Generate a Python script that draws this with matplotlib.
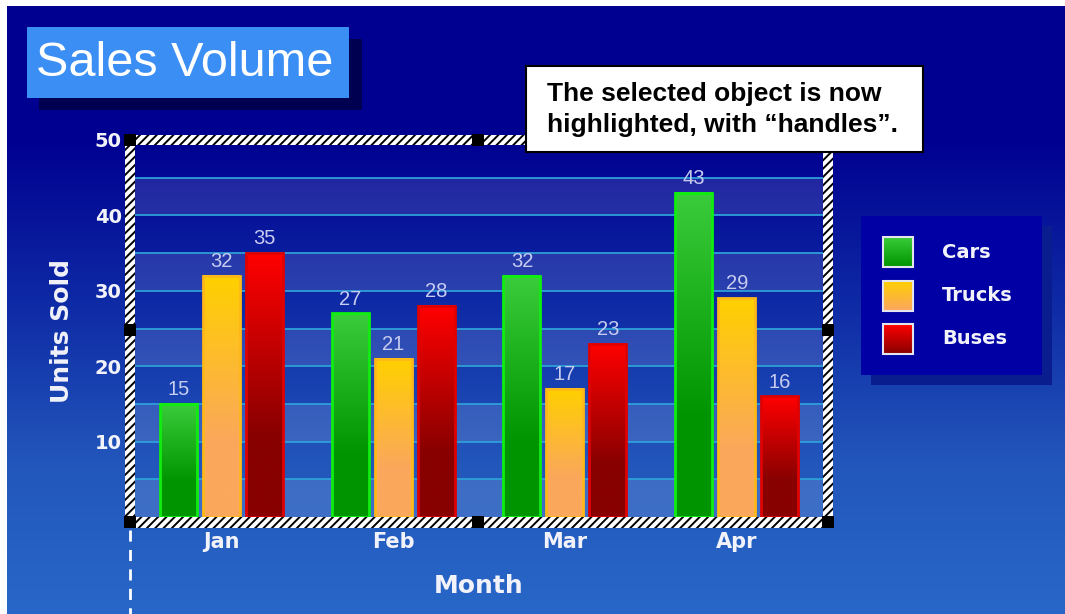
import numpy as np
import matplotlib
import matplotlib.pyplot as plt
from matplotlib.colors import LinearSegmentedColormap
from matplotlib.patches import Rectangle

matplotlib.use('agg')
plt.rcParams['font.family'] = ['Liberation Sans', 'DejaVu Sans']
plt.rcParams['hatch.linewidth'] = 1.4

months = ['Jan', 'Feb', 'Mar', 'Apr']
series = ['Cars', 'Trucks', 'Buses']
cars = [15, 27, 32, 43]
trucks = [32, 21, 17, 29]
buses = [35, 28, 23, 16]
y_ticks = [10, 20, 30, 40, 50]

W, H = 1065, 614
# (top colour, bottom colour, edge colour) per series
bar_styles = {
    'Cars': ('#3acc3a', '#009400', '#10ee10'),
    'Trucks': ('#ffd000', '#fba75c', '#ffb818'),
    'Buses': ('#ff0000', '#880000', '#e00000'),
}
label_font = dict(family='DejaVu Sans', weight='bold', color='#f2f2fa')

fig = plt.figure(figsize=(W / 100, H / 100), dpi=100, facecolor='white')

# background gradient, pixel coordinates
bg = fig.add_axes([0, 0, 1, 1], zorder=0)
bg.set_xlim(0, W)
bg.set_ylim(H, 0)
bg.axis('off')
bg_cmap = LinearSegmentedColormap.from_list(
    'bg', [(0, '#000090'), (0.22, '#000090'), (0.5, '#0f2ca6'), (0.75, '#2256bb'), (1, '#2867c7')])
bg.imshow(np.linspace(0, 1, 256).reshape(-1, 1), cmap=bg_cmap, aspect='auto',
          extent=(7, W, H, 6), interpolation='bicubic')

# plot area
x0, x1, y_top, y_bot = 130, 828, 140, 522
ax = fig.add_axes([x0 / W, (H - y_bot) / H, (x1 - x0) / W, (y_bot - y_top) / H], zorder=1)
ax.set_facecolor('none')
for lo in range(0, 50, 10):
    ax.axhspan(lo, lo + 5, color='white', alpha=0.12, lw=0, zorder=0)
for v in range(5, 50, 5):
    ax.axhline(v, color='#2d9fd8', lw=1.3, zorder=1)

x = np.arange(len(months))
width = 0.215
offsets = [-0.25, 0, 0.25]
grad = np.concatenate([np.linspace(0, 1, 70), np.ones(30)]).reshape(-1, 1)
for name, vals, off in zip(series, [cars, trucks, buses], offsets):
    top, bottom, edge = bar_styles[name]
    cmap = LinearSegmentedColormap.from_list(name, [top, bottom])
    for xi, v in zip(x, vals):
        left = xi + off - width / 2
        ax.imshow(grad, cmap=cmap, aspect='auto', extent=(left, left + width, 0, v),
                  interpolation='bicubic', zorder=3)
        ax.add_patch(Rectangle((left, 0), width, v, facecolor='none', edgecolor=edge,
                               lw=2, zorder=4))
        ax.annotate(str(v), (xi + off, v), xytext=(0, 3.5), textcoords='offset points',
                    ha='center', va='bottom', fontsize=14.5, color='#c8ccf0', zorder=5)

ax.set_xlim(-0.53, 3.53)
ax.set_ylim(-0.66, 50)
ax.set_xticks(x, months)
ax.set_yticks(y_ticks)
ax.tick_params(length=0, labelsize=14)
ax.tick_params(axis='x', pad=7, labelsize=15)
ax.tick_params(axis='y', pad=6)
for lab in ax.get_xticklabels() + ax.get_yticklabels():
    lab.set(**label_font)
for s in ax.spines.values():
    s.set_visible(False)
ax.set_xlabel('Month', fontsize=18, labelpad=16, **label_font)
ax.set_ylabel('Units Sold', fontsize=18, labelpad=15, **label_font)

# overlay: selection frame, title, callout, legend
ov = fig.add_axes([0, 0, 1, 1], zorder=2)
ov.set_xlim(0, W)
ov.set_ylim(H, 0)
ov.axis('off')

strips = [(125, 135, 708, 10), (125, 517, 708, 11), (125, 135, 10, 393), (823, 135, 10, 393)]
for sx, sy, sw, sh in strips:
    ov.add_patch(Rectangle((sx, sy), sw, sh, facecolor='white', edgecolor='black',
                           hatch='////', lw=0))
for hx, hy in [(130, 140), (478, 140), (828, 140), (130, 330), (828, 330),
               (130, 522), (478, 522), (828, 522)]:
    ov.add_patch(Rectangle((hx - 6, hy - 6), 12, 12, facecolor='black', lw=0))
ov.plot([130, 130], [530, H], color='white', lw=2, ls=(0, (4, 3)))

# title box
ov.add_patch(Rectangle((39, 39), 323, 71, facecolor='#000050', lw=0))
ov.add_patch(Rectangle((27, 27), 322, 71, facecolor='#3a8ef4', lw=0))
ov.text(36, 63, 'Sales Volume', fontsize=35, color='white', va='center')

# callout
ov.add_patch(Rectangle((526, 66), 397, 86, facecolor='white', edgecolor='black', lw=1.5))
ov.text(547, 101, 'The selected object is now', fontsize=19, weight='bold', va='baseline')
ov.text(547, 132, 'highlighted, with \u201chandles\u201d.', fontsize=19, weight='bold',
        va='baseline')

# legend
ov.add_patch(Rectangle((871, 226), 181, 159, facecolor='#0a1d8e', lw=0))
ov.add_patch(Rectangle((861, 216), 181, 159, facecolor='#0000a4', lw=0))
sw_grad = np.linspace(0, 1, 50).reshape(-1, 1)
for i, name in enumerate(series):
    top, bottom, edge = bar_styles[name]
    cmap = LinearSegmentedColormap.from_list(name + '_leg', [top, bottom])
    sy = 237 + i * 43.5
    ov.imshow(sw_grad, cmap=cmap, aspect='auto', extent=(883, 913, sy + 30, sy),
              interpolation='bicubic', zorder=3)
    ov.add_patch(Rectangle((883, sy), 30, 30, facecolor='none', edgecolor='#e4e4ec',
                           lw=1.5, zorder=4))
    ov.text(942, sy + 15, name, fontsize=14, va='center', zorder=4, **label_font)
ov.set_xlim(0, W)
ov.set_ylim(H, 0)

fig.savefig('out.png', dpi=100)
